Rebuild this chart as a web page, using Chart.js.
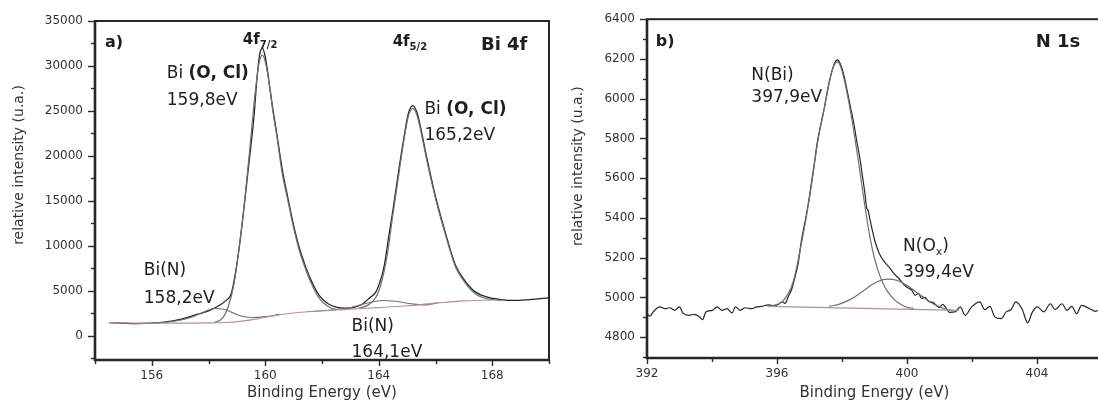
<!DOCTYPE html>
<html>
<head>
<meta charset="utf-8">
<script src="https://cdn.jsdelivr.net/npm/chart.js@4.4.1/dist/chart.umd.min.js"></script>
<style>
html, body { margin:0; padding:0; background:#fff; overflow:hidden; }
#wrap { position:relative; width:1098px; height:410px; overflow:hidden; }
#chartA { position:absolute; left:0; top:0; }
#chartB { position:absolute; left:560px; top:0; }
</style>
</head>
<body>
<div id="wrap">
   <canvas id="chartA" width="560" height="410"></canvas>
   <canvas id="chartB" width="551" height="410"></canvas>
</div>
<script>
// ---- a) Bi 4f ----
var bi4fEnvE = [154.5,155,155.5,156,156.5,157,157.5,158,158.3,158.6,158.8,159,159.2,159.4,159.6,159.7,159.8,159.9,160.0,160.1,160.25,160.4,160.6,160.8,161,161.2,161.4,161.6,161.9,162.2,162.5,162.8,163.1,163.4,163.7,163.9,164.1,164.2,164.35,164.5,164.7,164.9,165.05,165.2,165.35,165.5,165.7,166,166.3,166.7,167,167.4,167.8,168.3,168.8,169.3,169.7,170];
var bi4fEnvI = [1480,1420,1380,1420,1560,1850,2300,2800,3250,3900,4700,8000,12800,18500,24300,28300,31200,32000,31000,29000,25600,22600,18500,15300,12300,9800,7900,6300,4500,3600,3200,3080,3150,3500,4300,4900,6600,7900,11000,14000,18300,22300,24800,25600,24800,22800,19700,15500,12000,7900,6300,4900,4350,4050,3950,4050,4150,4250];

var biOCl72E = [158.2,158.5,158.7,158.9,159.1,159.3,159.5,159.65,159.78,159.9,160.02,160.15,160.3,160.4,160.6,160.8,161,161.2,161.4,161.6,161.9,162.2,162.5,162.9];
var biOCl72I = [1480,2000,3300,5800,10300,15800,22300,27200,30300,31200,30200,27800,24300,22400,18000,15000,12000,9500,7600,6000,4200,3300,2950,2950];

var biOCl52E = [163.3,163.6,163.9,164.1,164.3,164.5,164.7,164.9,165.05,165.2,165.35,165.5,165.7,166,166.3,166.7,167,167.4,167.8,168.3];
var biOCl52I = [3100,3400,4300,6000,9000,13500,17800,22000,24500,25300,24500,22500,19400,15300,11800,7700,6100,4700,4150,3950];

var biN1E = [155.5,156,156.5,157,157.5,157.9,158.2,158.5,158.8,159.1,159.5,160,160.5];
var biN1I = [1400,1420,1520,1750,2200,2750,3050,3000,2650,2250,2050,2150,2400];

var biN2E = [161.5,162.2,162.8,163.3,163.7,164.15,164.6,165.1,165.6,166.1];
var biN2I = [2700,2850,3050,3400,3750,3950,3850,3600,3450,3700];

var bi4fBaseE = [154.5,156,157,158,158.6,159.2,159.8,160.4,161,162,163,164,165,166,167,168];
var bi4fBaseI = [1480,1420,1430,1450,1500,1650,1950,2300,2550,2800,2980,3150,3350,3650,3900,4000];

var bi4fXTicks = [154,156,158,160,162,164,166,168,170];
var bi4fXLabels = [156,160,164,168];
var bi4fYTicks = [-2500,0,2500,5000,7500,10000,12500,15000,17500,20000,22500,25000,27500,30000,32500,35000];
var bi4fYLabels = [0,5000,10000,15000,20000,25000,30000,35000];

// ---- b) N 1s ----
var n1sEnvE = [392.0,392.09,392.19,392.39,392.55,392.70,392.85,393.0,393.10,393.30,393.45,393.61,393.71,393.81,394.01,394.16,394.31,394.46,394.62,394.72,394.87,395.02,395.22,395.37,395.52,395.73,395.93,396.05,396.15,396.25,396.35,396.45,396.55,396.65,396.75,396.85,396.95,397.1,397.25,397.45,397.6,397.75,397.85,397.95,398.07,398.17,398.27,398.37,398.45,398.55,398.62,398.7,398.76,398.8,398.85,398.93,399.01,399.15,399.3,399.46,399.6,399.75,399.9,400.02,400.15,400.25,400.35,400.45,400.55,400.68,400.8,400.9,401.0,401.1,401.18,401.3,401.48,401.64,401.79,401.99,402.24,402.39,402.55,402.70,402.90,403.05,403.20,403.35,403.55,403.71,403.86,404.01,404.21,404.41,404.56,404.77,404.92,405.07,405.22,405.37,405.62,405.8,406.0];
var n1sEnvI = [4918,4905,4927,4952,4943,4948,4935,4952,4922,4910,4915,4902,4888,4927,4935,4952,4935,4943,4922,4952,4935,4948,4943,4952,4955,4962,4958,4965,4978,4970,5005,5040,5100,5170,5285,5370,5460,5620,5790,5950,6080,6170,6195,6175,6110,6030,5950,5870,5790,5700,5620,5530,5450,5440,5400,5340,5285,5220,5180,5150,5120,5095,5065,5050,5035,5010,5020,4995,5000,4978,4975,4960,4950,4965,4952,4925,4927,4952,4910,4952,4977,4938,4955,4902,4893,4927,4938,4977,4938,4872,4927,4952,4927,4968,4938,4968,4935,4955,4918,4960,4943,4930,4950];

var nBiE = [395.8,396.2,396.5,396.75,396.95,397.1,397.25,397.45,397.6,397.75,397.85,397.95,398.07,398.2,398.35,398.5,398.65,398.8,398.95,399.1,399.25,399.4,399.6,399.8,400.0,400.2];
var nBiI = [4955,4985,5080,5270,5450,5610,5780,5945,6075,6165,6185,6165,6095,5990,5850,5690,5520,5360,5230,5140,5075,5030,4990,4965,4950,4945];

var nOxE = [397.6,397.9,398.2,398.5,398.8,399.1,399.4,399.7,400.0,400.3,400.6,400.9,401.2,401.4];
var nOxI = [4955,4965,4985,5015,5050,5080,5092,5085,5060,5025,4990,4960,4940,4935];

var n1sBaseE = [395.7,401.6];
var n1sBaseI = [4955,4935];

var n1sXTicks = [392,394,396,398,400,402,404,406];
var n1sXLabels = [392,396,400,404];
var n1sYTicks = [4700,4800,4900,5000,5100,5200,5300,5400,5500,5600,5700,5800,5900,6000,6100,6200,6300,6400];
var n1sYLabels = [4800,5000,5200,5400,5600,5800,6000,6200,6400];


var FAM = '"DejaVu Sans"';
var N17 = '17px ' + FAM, B17 = 'bold 17px ' + FAM, B16 = 'bold 16px ' + FAM;
var B15 = 'bold 15px ' + FAM, B10 = 'bold 10px ' + FAM, B18 = 'bold 18px ' + FAM, N11 = '11px ' + FAM;

function pts(xs, ys){
   return xs.map(function(x, i){ return {x: x, y: ys[i]}; });
}

function line(xs, ys, color, width){
   return {
      data: pts(xs, ys),
      borderColor: color,
      borderWidth: width,
      pointRadius: 0,
      fill: false,
      cubicInterpolationMode: 'monotone'
   };
}

var framePlugin = {
   id: 'frame',
   afterDraw: function(chart){
      var o = chart.options.plugins.frame;
      var ctx = chart.ctx, a = chart.chartArea;
      var xs = chart.scales.x, ys = chart.scales.y;
      ctx.save();

      // text notes
      ctx.fillStyle = '#1e1e1e';
      ctx.textBaseline = 'alphabetic';
      o.notes.forEach(function(n){
         var px = xs.getPixelForValue(n.x), py = ys.getPixelForValue(n.y);
         var total = 0;
         n.parts.forEach(function(p){ ctx.font = p[1]; total += ctx.measureText(p[0]).width; });
         if (n.align === 'right') px -= total;
         n.parts.forEach(function(p){
            ctx.font = p[1];
            ctx.fillText(p[0], px, py + (p[2] || 0));
            px += ctx.measureText(p[0]).width;
         });
      });

      // tick marks
      ctx.strokeStyle = '#2b2b2b';
      ctx.lineWidth = 1.4;
      xs.ticks.forEach(function(t){
         var px = Math.round(xs.getPixelForValue(t.value)) + 0.5;
         var len = o.xLabels.indexOf(t.value) >= 0 ? 6 : 4;
         ctx.beginPath(); ctx.moveTo(px, a.bottom); ctx.lineTo(px, a.bottom + len); ctx.stroke();
      });
      ys.ticks.forEach(function(t){
         var py = Math.round(ys.getPixelForValue(t.value)) + 0.5;
         var len = o.yLabels.indexOf(t.value) >= 0 ? 7 : 4;
         ctx.beginPath(); ctx.moveTo(a.left, py); ctx.lineTo(a.left - len, py); ctx.stroke();
      });

      // plot frame
      ctx.lineWidth = 2;
      ctx.strokeStyle = '#262626';
      ctx.strokeRect(a.left, a.top, a.right - a.left, a.bottom - a.top);
      ctx.lineWidth = 2.6;
      ctx.beginPath();
      ctx.moveTo(a.left, a.top); ctx.lineTo(a.left, a.bottom); ctx.lineTo(a.right, a.bottom);
      ctx.stroke();

      // y axis title
      ctx.translate(o.yTitleX, ys.getPixelForValue(o.yTitleAt));
      ctx.rotate(-Math.PI / 2);
      ctx.font = '14px ' + FAM;
      ctx.fillStyle = '#333';
      ctx.textAlign = 'center';
      ctx.textBaseline = 'middle';
      ctx.fillText('relative intensity (u.a.)', 0, 0);
      ctx.restore();
   }
};

function initChart(id, s){
   var config = {
      type: 'line',
      data: { datasets: s.datasets },
      plugins: [framePlugin],
      options: {
         responsive: false,
         animation: false,
         layout: { padding: s.padding },
         plugins: {
            legend: { display: false },
            tooltip: { enabled: false },
            frame: {
               notes: s.notes,
               xLabels: s.xLabels,
               yLabels: s.yLabels,
               yTitleX: s.yTitleX,
               yTitleAt: s.yTitleAt
            }
         },
         scales: {
            x: {
               type: 'linear',
               min: s.xMin, max: s.xMax,
               grid: { display: false, drawTicks: false },
               border: { display: false },
               afterBuildTicks: function(sc){ sc.ticks = s.xTicks.map(function(v){ return {value: v}; }); },
               afterFit: function(sc){ sc.height = s.xHeight; },
               ticks: {
                  padding: 9,
                  color: '#333',
                  font: { size: 12, family: FAM },
                  autoSkip: false,
                  maxRotation: 0,
                  callback: function(v){ return s.xLabels.indexOf(v) >= 0 ? String(v) : ''; }
               },
               title: {
                  display: true,
                  text: 'Binding Energy (eV)',
                  color: '#333',
                  font: { size: 15, family: FAM },
                  padding: { top: 0, bottom: 8 }
               }
            },
            y: {
               type: 'linear',
               min: s.yMin, max: s.yMax,
               grid: { display: false, drawTicks: false },
               border: { display: false },
               afterBuildTicks: function(sc){ sc.ticks = s.yTicks.map(function(v){ return {value: v}; }); },
               afterFit: function(sc){ sc.width = s.yWidth; },
               ticks: {
                  padding: 12,
                  color: '#333',
                  font: { size: 12, family: FAM },
                  autoSkip: false,
                  callback: function(v){ return s.yLabels.indexOf(v) >= 0 ? String(v) : ''; }
               }
            }
         }
      }
   };
   return new Chart(document.getElementById(id), config);
}

var ENV = '#262626', COMP = '#707070', BASE = '#b3938a';

window.chartA = initChart('chartA', {
   xMin: 154, xMax: 170, yMin: -2670, yMax: 35000,
   xTicks: bi4fXTicks, xLabels: bi4fXLabels, yTicks: bi4fYTicks, yLabels: bi4fYLabels,
   padding: { top: 21, right: 11, left: 0, bottom: 0 },
   yWidth: 95, xHeight: 50, yTitleX: 19, yTitleAt: 19000,
   datasets: [
      line(bi4fBaseE, bi4fBaseI, BASE, 1.1),
      line(biN1E, biN1I, COMP, 1.1),
      line(biN2E, biN2I, COMP, 1.1),
      line(biOCl72E, biOCl72I, COMP, 1.2),
      line(biOCl52E, biOCl52I, COMP, 1.2),
      line(bi4fEnvE, bi4fEnvI, ENV, 1.3)
   ],
   notes: [
      { x: 154.35, y: 32100, parts: [['a)', B16]] },
      { x: 159.21, y: 32450, parts: [['4f', B15], ['7/2', B10, 4]] },
      { x: 164.49, y: 32200, parts: [['4f', B15], ['5/2', B10, 4]] },
      { x: 169.24, y: 31780, align: 'right', parts: [['Bi 4f', B18]] },
      { x: 156.53, y: 28670, parts: [['Bi ', N17], ['(O, Cl)', B17]] },
      { x: 156.53, y: 25670, parts: [['159,8eV', N17]] },
      { x: 165.61, y: 24670, parts: [['Bi ', N17], ['(O, Cl)', B17]] },
      { x: 165.61, y: 21780, parts: [['165,2eV', N17]] },
      { x: 155.72, y: 6780, parts: [['Bi(N)', N17]] },
      { x: 155.72, y: 3670, parts: [['158,2eV', N17]] },
      { x: 163.04, y: 560, parts: [['Bi(N)', N17]] },
      { x: 163.04, y: -2330, parts: [['164,1eV', N17]] }
   ]
});

window.chartB = initChart('chartB', {
   xMin: 392, xMax: 406, yMin: 4695, yMax: 6400,
   xTicks: n1sXTicks, xLabels: n1sXLabels, yTicks: n1sYTicks, yLabels: n1sYLabels,
   padding: { top: 17, right: 2, left: 0, bottom: 0 },
   yWidth: 87, xHeight: 52, yTitleX: 18, yTitleAt: 5660,
   datasets: [
      line(n1sBaseE, n1sBaseI, BASE, 1.3),
      line(nBiE, nBiI, COMP, 1.2),
      line(nOxE, nOxI, COMP, 1.2),
      line(n1sEnvE, n1sEnvI, ENV, 1.2)
   ],
   notes: [
      { x: 392.27, y: 6265, parts: [['b)', B16]] },
      { x: 405.33, y: 6260, align: 'right', parts: [['N 1s', B18]] },
      { x: 395.21, y: 6095, parts: [['N(Bi)', N17]] },
      { x: 395.21, y: 5985, parts: [['397,9eV', N17]] },
      { x: 399.88, y: 5235, parts: [['N(O', N17], ['x', N11, 4], [')', N17]] },
      { x: 399.88, y: 5105, parts: [['399,4eV', N17]] }
   ]
});
</script>
</body>
</html>
